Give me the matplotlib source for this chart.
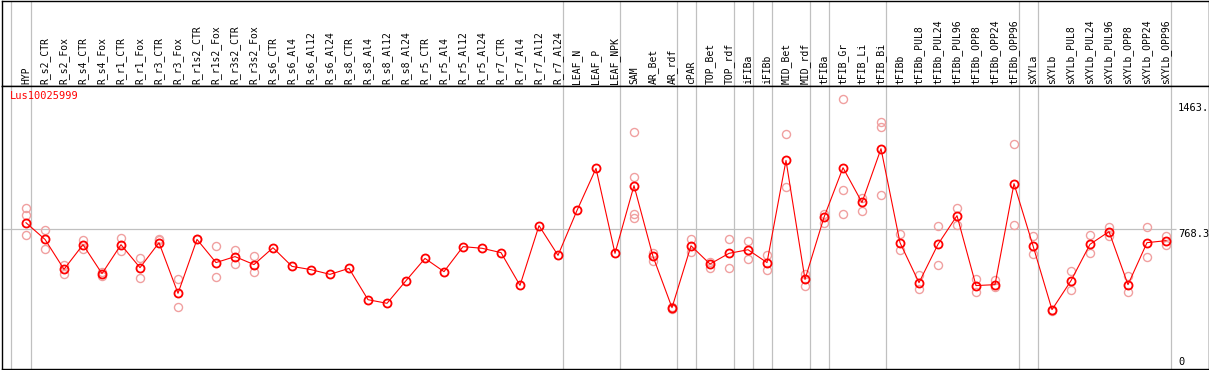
import matplotlib.pyplot as plt

W, H, DPI = 1209, 370, 100

probe = "Lus10025999"

samples = [
    "HYP", "R_s2_CTR", "R_s2_Fox", "R_s4_CTR", "R_s4_Fox", "R_r1_CTR", "R_r1_Fox",
    "R_r3_CTR", "R_r3_Fox", "R_r1s2_CTR", "R_r1s2_Fox", "R_r3s2_CTR", "R_r3s2_Fox",
    "R_s6_CTR", "R_s6_Al4", "R_s6_Al12", "R_s6_Al24", "R_s8_CTR", "R_s8_Al4",
    "R_s8_Al12", "R_s8_Al24", "R_r5_CTR", "R_r5_Al4", "R_r5_Al12", "R_r5_Al24",
    "R_r7_CTR", "R_r7_Al4", "R_r7_Al12", "R_r7_Al24", "LEAF_N", "LEAF_P", "LEAF_NPK",
    "SAM", "AR_Bet", "AR_rdf", "cPAR", "TOP_Bet", "TOP_rdf", "iFIBa", "iFIBb",
    "MID_Bet", "MID_rdf", "tFIBa", "tFIB_Gr", "tFIB_Li", "tFIB_Bi", "tFIBb",
    "tFIBb_PUL8", "tFIBb_PUL24", "tFIBb_PUL96", "tFIBb_OPP8", "tFIBb_OPP24",
    "tFIBb_OPP96", "sXYLa", "sXYLb", "sXYLb_PUL8", "sXYLb_PUL24", "sXYLb_PUL96",
    "sXYLb_OPP8", "sXYLb_OPP24", "sXYLb_OPP96",
]

means = [
    801, 709, 544, 680, 520, 680, 553, 691, 411, 709, 581, 614, 570,
    663, 560, 542, 516, 549, 376, 356, 481, 604, 531, 669, 660,
    636, 455, 785, 621, 869, 1101, 632,
    1006, 615, 332, 674, 573, 632, 652, 581,
    1145, 488, 831, 1105, 913, 1210, 691,
    470, 682, 840, 454, 459, 1017,
    674, 321, 481, 682, 752, 459, 691, 702,
]

replicates = [
    [884, 845, 735], [759, 658], [567, 518], [704, 658], [529, 507], [715, 647],
    [604, 498], [713, 704], [488, 334], [709], [671, 499], [648, 575], [617, 531],
    [], [], [], [], [], [], [], [], [], [], [], [], [], [], [], [], [], [], [],
    [1300, 1055, 847, 827], [636, 592], [336, 325], [709, 639], [584, 551],
    [709, 549], [702, 603], [621, 542], [1289, 1000], [520, 454], [849, 799],
    [1486, 983, 851], [939, 868], [1357, 1329, 956], [737, 648],
    [511, 435], [785, 570], [884, 788], [488, 421], [483, 444], [1237, 790],
    [726, 630], [312], [533, 432], [731, 632], [775, 730], [507, 421],
    [775, 614], [727, 680],
]

# vertical separators (in column units)
breaks = [-0.8, 0.25, 28.25, 31.25, 34.25, 35.25, 37.25, 38.25, 39.25,
          41.25, 42.25, 45.25, 52.25, 53.25, 60.25]

y_top = 1463.
y_mid = 768.3

GRID = "#c0c0c0"
FONT = "DejaVu Sans Mono"


def px_box(left, top, right, bottom):
    return [left / W, 1 - bottom / H, (right - left) / W, (bottom - top) / H]


fig = plt.figure(figsize=(W / DPI, H / DPI), dpi=DPI)

# column i sits at pixel 26 + 19*i
x0 = (1.5 - 26) / 19
x1 = (1208.5 - 26) / 19

ax_head = fig.add_axes(px_box(1.5, 0.5, 1208.5, 85.5))
ax = fig.add_axes(px_box(1.5, 85.5, 1208.5, 368.5))

for a in (ax_head, ax):
    a.set_xlim(x0, x1)
    a.set_xticks([])
    a.set_yticks([])
    for sp in a.spines.values():
        sp.set_linewidth(1.0)
        sp.set_color("black")
    for b in breaks:
        a.axvline(b, color=GRID, lw=0.9, zorder=0)

ax_head.set_ylim(0, 85)
for i, name in enumerate(samples):
    ax_head.text(i, 2.0, name, rotation=90, ha="center", va="bottom",
                 fontsize=7, family=FONT)

ax.set_ylim(-4, 1559)
ax.hlines(y_mid, x0, (1176 - 26) / 19, color=GRID, lw=0.9, zorder=0)

# replicate values
for i, vals in enumerate(replicates):
    if vals:
        ax.plot([i] * len(vals), vals, "o", ms=5.8, mfc="none", mec="#f0a0a0",
                mew=1.0, zorder=2)

xs = list(range(len(means)))
ax.plot(xs, means, "-", color="red", lw=0.8, zorder=3)
ax.plot(xs, means, "o", ms=5.8, mfc="none", mec="red", mew=1.3, zorder=4)

xl = (1178 - 26) / 19
ax.text(xl, y_top, "1463.", ha="left", va="top", fontsize=7.5, family=FONT)
ax.text(xl, y_mid, f"{y_mid}", ha="left", va="top", fontsize=7.5, family=FONT)
ax.text(xl, 5, "0", ha="left", va="bottom", fontsize=7.5, family=FONT)

fig.text(10 / W, 1 - 91 / H, probe, color="red", ha="left", va="top",
         fontsize=7.5, family=FONT)

fig.savefig("out.png", dpi=DPI)
